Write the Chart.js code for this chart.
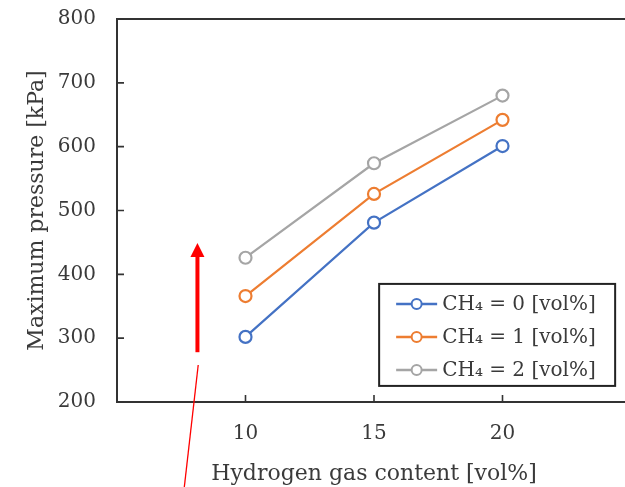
<!DOCTYPE html>
<html>
<head>
<meta charset="utf-8">
<script src="https://cdn.jsdelivr.net/npm/chart.js@4"></script>
<style>
  html, body { margin: 0; padding: 0; background: #fff; overflow: hidden; }
  #wrap { width: 640px; height: 501px; margin-top: -14px; position: relative; }
</style>
</head>
<body>
<div id="wrap"><canvas id="chart"></canvas></div>
<script>
// Datos

let hydrogen = [10, 15, 20];
let ch4_0 = [302, 481, 601];
let ch4_1 = [366, 526, 642];
let ch4_2 = [426, 574, 680];
let seriesLabels = ["CH\u2084 = 0 [vol%]", "CH\u2084 = 1 [vol%]", "CH\u2084 = 2 [vol%]"];
let xTicks = [10, 15, 20];
let yTicks = [200, 300, 400, 500, 600, 700, 800];

// Flecha roja (anotacion, en coordenadas de datos)
let arrowX = [8.13, 8.13];
let arrowY = [278, 449];
let pointerX = [8.16, 7.6];
let pointerY = [258, 60];

let colors = ["#4472C4", "#ED7D31", "#A5A5A5"];
let serif = "'DejaVu Serif', 'Liberation Serif', serif";
let textColor = "#3a3a3a";

function toPoints(ys) {
  return hydrogen.map((x, i) => ({ x: x, y: ys[i] }));
}

function dataset(label, ys, color) {
  return {
    label: label,
    data: toPoints(ys),
    borderColor: color,
    backgroundColor: "#fff",
    borderWidth: 2.2,
    pointRadius: 6,
    pointBorderWidth: 2.2,
    pointBackgroundColor: "#fff",
    pointHoverRadius: 6,
    tension: 0,
  };
}

// Marco, ticks hacia adentro, flecha y leyenda

let framePlugin = {
  id: "frame",
  afterDraw(chart) {
    let ctx = chart.ctx;
    let a = chart.chartArea;
    let xs = chart.scales.x;
    let ys = chart.scales.y;
    ctx.save();

    // marco
    ctx.strokeStyle = "#333";
    ctx.lineWidth = 2;
    ctx.strokeRect(a.left, a.top, a.right - a.left, a.bottom - a.top);

    // ticks
    ctx.lineWidth = 1.6;
    ctx.beginPath();
    xTicks.forEach((v) => {
      let px = xs.getPixelForValue(v);
      ctx.moveTo(px, a.bottom);
      ctx.lineTo(px, a.bottom - 7);
    });
    yTicks.forEach((v) => {
      let py = ys.getPixelForValue(v);
      ctx.moveTo(a.left, py);
      ctx.lineTo(a.left + 7, py);
    });
    ctx.stroke();

    // flecha
    let ax = xs.getPixelForValue(arrowX[0]);
    let ay0 = ys.getPixelForValue(arrowY[0]);
    let ay1 = ys.getPixelForValue(arrowY[1]);
    ctx.strokeStyle = "#ff0000";
    ctx.fillStyle = "#ff0000";
    ctx.lineWidth = 4;
    ctx.beginPath();
    ctx.moveTo(ax, ay0);
    ctx.lineTo(ax, ay1 + 12);
    ctx.stroke();
    ctx.beginPath();
    ctx.moveTo(ax, ay1);
    ctx.lineTo(ax - 7, ay1 + 14);
    ctx.lineTo(ax + 7, ay1 + 14);
    ctx.closePath();
    ctx.fill();

    ctx.lineWidth = 1.3;
    ctx.beginPath();
    ctx.moveTo(xs.getPixelForValue(pointerX[0]), ys.getPixelForValue(pointerY[0]));
    ctx.lineTo(xs.getPixelForValue(pointerX[1]), ys.getPixelForValue(pointerY[1]));
    ctx.stroke();

    // leyenda (posicion relativa al area del grafico)
    let boxLeft = xs.getPixelForValue(15.2);
    let boxTop = ys.getPixelForValue(385);
    let boxW = 236;
    let boxH = 102;
    ctx.fillStyle = "#fff";
    ctx.fillRect(boxLeft, boxTop, boxW, boxH);
    ctx.strokeStyle = "#222";
    ctx.lineWidth = 2;
    ctx.strokeRect(boxLeft, boxTop, boxW, boxH);

    ctx.font = "20px " + serif;
    ctx.textBaseline = "middle";
    chart.data.datasets.forEach((ds, i) => {
      let cy = boxTop + 20 + i * 33;
      ctx.strokeStyle = ds.borderColor;
      ctx.lineWidth = 2.5;
      ctx.beginPath();
      ctx.moveTo(boxLeft + 17, cy);
      ctx.lineTo(boxLeft + 58, cy);
      ctx.stroke();
      ctx.fillStyle = "#fff";
      ctx.lineWidth = 2;
      ctx.beginPath();
      ctx.arc(boxLeft + 37.5, cy, 5, 0, Math.PI * 2);
      ctx.fill();
      ctx.stroke();
      ctx.fillStyle = textColor;
      ctx.fillText(ds.label, boxLeft + 63, cy + 1);
    });

    ctx.restore();
  },
};

let ctx = document.getElementById("chart").getContext("2d");

let chart = new Chart(ctx, {
  type: "line",
  data: {
    datasets: [
      dataset(seriesLabels[0], ch4_0, colors[0]),
      dataset(seriesLabels[1], ch4_1, colors[1]),
      dataset(seriesLabels[2], ch4_2, colors[2]),
    ],
  },
  options: {
    responsive: true,
    maintainAspectRatio: false,
    animation: false,
    layout: {
      padding: { top: 7, right: 9, left: 0, bottom: 0 },
    },
    plugins: {
      legend: { display: false },
      tooltip: { enabled: false },
    },
    scales: {
      x: {
        type: "linear",
        min: 5,
        max: 25,
        afterBuildTicks: (scale) => {
          scale.ticks = xTicks.map((v) => ({ value: v }));
        },
        afterFit: (scale) => {
          scale.height = 85;
        },
        grid: { display: false, drawTicks: false },
        border: { display: false },
        ticks: {
          padding: 20,
          color: textColor,
          font: { family: serif, size: 20 },
        },
        title: {
          display: true,
          text: "Hydrogen gas content [vol%]",
          color: textColor,
          padding: { top: 6, bottom: 0 },
          font: { family: serif, size: 22 },
        },
      },
      y: {
        min: 200,
        max: 800,
        afterBuildTicks: (scale) => {
          scale.ticks = yTicks.map((v) => ({ value: v }));
        },
        afterFit: (scale) => {
          scale.width = 117;
        },
        grid: { display: false, drawTicks: false },
        border: { display: false },
        ticks: {
          padding: 21,
          color: textColor,
          font: { family: serif, size: 20 },
        },
        title: {
          display: true,
          text: "Maximum pressure [kPa]",
          color: textColor,
          padding: { top: 24, bottom: 0 },
          font: { family: serif, size: 22 },
        },
      },
    },
  },
  plugins: [framePlugin],
});
</script>
</body>
</html>
